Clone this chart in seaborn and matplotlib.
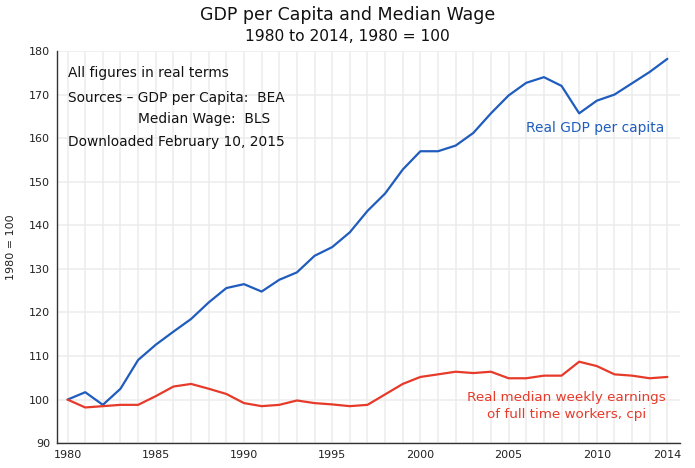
import pandas as pd
import matplotlib
matplotlib.use("Agg")
import matplotlib.pyplot as plt
from matplotlib.ticker import MultipleLocator, FixedLocator
import seaborn as sns

# Data (1980 = 100)
years = list(range(1980, 2015))
gdp_per_capita = [100.0, 101.7, 98.8, 102.5, 109.1, 112.6, 115.6, 118.5, 122.3, 125.6,
                  126.5, 124.8, 127.5, 129.2, 133.0, 135.0, 138.4, 143.3, 147.3, 152.8,
                  157.0, 157.0, 158.3, 161.2, 165.7, 169.8, 172.7, 174.0, 172.0, 165.7,
                  168.6, 170.0, 172.6, 175.2, 178.2]
median_wage = [100.0, 98.2, 98.5, 98.8, 98.8, 100.8, 103.0, 103.6, 102.5, 101.3,
               99.2, 98.5, 98.8, 99.8, 99.2, 98.9, 98.5, 98.8, 101.2, 103.6,
               105.2, 105.8, 106.4, 106.1, 106.4, 104.9, 104.9, 105.5, 105.5, 108.7,
               107.7, 105.8, 105.5, 104.9, 105.2]

df = pd.DataFrame({"year": years, "gdp": gdp_per_capita, "wage": median_wage})

blue = "#1f5cbd"
red = "#e63a2a"

sns.set_style("white")
plt.rcParams["font.family"] = ["DejaVu Sans"]

fig = plt.figure(figsize=(6.95, 4.68), dpi=100)
ax = fig.add_axes([0.082, 0.053, 0.896, 0.838])

sns.lineplot(data=df, x="year", y="gdp", color=blue, linewidth=1.6, ax=ax)
sns.lineplot(data=df, x="year", y="wage", color=red, linewidth=1.6, ax=ax)

ax.set_xlim(1979.4, 2014.7)
ax.set_ylim(90, 180)

ax.xaxis.set_major_locator(FixedLocator([1980, 1985, 1990, 1995, 2000, 2005, 2010, 2014]))
ax.xaxis.set_minor_locator(MultipleLocator(1))
ax.yaxis.set_major_locator(MultipleLocator(10))

ax.grid(True, which="both", axis="x", color="#ececec", linewidth=1.1)
ax.grid(True, which="major", axis="y", color="#ececec", linewidth=1.1)
ax.set_axisbelow(True)

for side in ["top", "right"]:
    ax.spines[side].set_visible(False)
for side in ["left", "bottom"]:
    ax.spines[side].set_color("#333333")
    ax.spines[side].set_linewidth(1.0)

ax.tick_params(axis="both", which="major", direction="inout", length=6, width=1,
               color="#333333", labelsize=8, labelcolor="#222222", pad=2)
ax.tick_params(axis="x", which="minor", direction="out", length=3, width=0.8,
               color="#333333")

ax.set_xlabel("")
ax.set_ylabel("1980 = 100", fontsize=8, color="#222222", labelpad=9)

fig.text(0.5, 0.968, "GDP per Capita and Median Wage", ha="center", va="center",
         fontsize=12.5, color="#111111")
fig.text(0.5, 0.923, "1980 to 2014, 1980 = 100", ha="center", va="center",
         fontsize=11.2, color="#111111")

note_kw = dict(fontsize=9.9, color="#111111", va="center", ha="left")
ax.text(1980.05, 175.0, "All figures in real terms", **note_kw)
ax.text(1980.0, 169.3, "Sources \u2013 GDP per Capita:  BEA", **note_kw)
ax.text(1984.0, 164.3, "Median Wage:  BLS", **note_kw)
ax.text(1980.0, 159.2, "Downloaded February 10, 2015", **note_kw)

ax.text(2009.9, 162.3, "Real GDP per capita", color=blue, fontsize=9.9,
        ha="center", va="center")
ax.text(2008.3, 98.5, "Real median weekly earnings\nof full time workers, cpi",
        color=red, fontsize=9.7, ha="center", va="center", linespacing=1.35)

fig.savefig("out.png", dpi=100)
